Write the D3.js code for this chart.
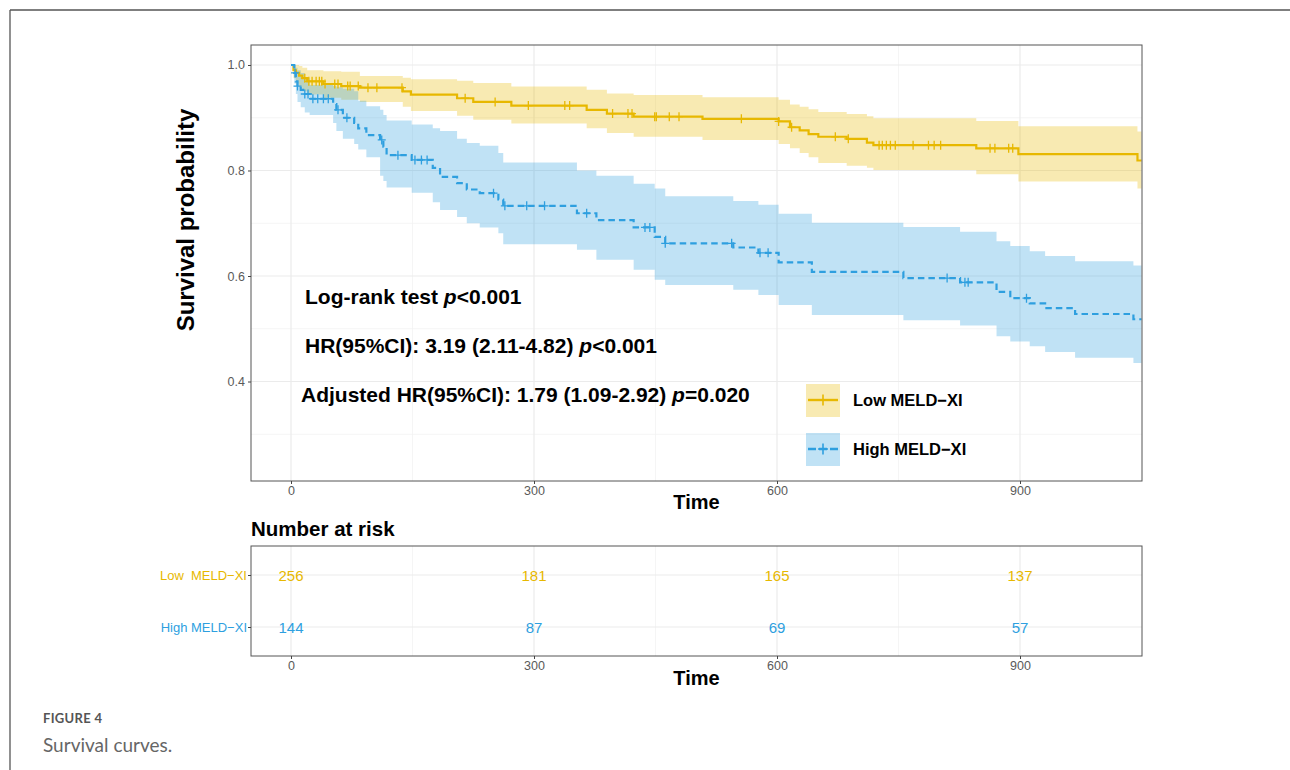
<!DOCTYPE html>
<html>
<head>
<meta charset="utf-8">
<script src="https://cdn.jsdelivr.net/npm/d3@7"></script>
<style>
  body { margin: 0; background: #fff; }
  text { font-family: "Liberation Sans", Arial, Helvetica, sans-serif; }
</style>
</head>
<body>
<div id="chart"></div>
<script>
// ---- data ----
var groups = ["Low MELD−XI", "High MELD−XI"];
var riskLabels = ["Low  MELD−XI", "High MELD−XI"];
var colors = ["#E7B800", "#2E9FDF"];

var lowTime  = [0, 3, 6, 10, 14, 20, 40, 62, 85, 138, 148, 205, 225, 272, 365, 390, 423, 508, 602, 616, 628, 639, 651, 686, 711, 719, 846, 898, 1045];
var lowSurv  = [1, 0.990, 0.985, 0.980, 0.975, 0.969, 0.964, 0.960, 0.957, 0.950, 0.944, 0.937, 0.930, 0.923, 0.915, 0.908, 0.902, 0.898, 0.893, 0.882, 0.876, 0.869, 0.864, 0.860, 0.853, 0.848, 0.842, 0.831, 0.819];
var lowLower = [1, 0.975, 0.965, 0.958, 0.950, 0.944, 0.938, 0.934, 0.930, 0.921, 0.913, 0.904, 0.896, 0.889, 0.880, 0.871, 0.864, 0.858, 0.850, 0.842, 0.833, 0.825, 0.814, 0.809, 0.805, 0.801, 0.793, 0.779, 0.766];
var lowUpper = [1, 1, 1, 0.998, 0.995, 0.990, 0.988, 0.987, 0.979, 0.976, 0.973, 0.970, 0.966, 0.959, 0.953, 0.946, 0.943, 0.939, 0.934, 0.925, 0.921, 0.916, 0.911, 0.907, 0.903, 0.899, 0.894, 0.884, 0.874];
var lowCensor = [17, 22, 26, 31, 35, 38, 42, 54, 58, 70, 73, 83, 95, 106, 137, 215, 252, 293, 338, 344, 397, 416, 421, 449, 451, 467, 479, 556, 602, 618, 672, 688, 726, 730, 735, 740, 746, 768, 787, 794, 802, 863, 869, 886, 891];

var highTime  = [0, 4, 6, 8, 12, 17, 23, 52, 56, 64, 78, 83, 93, 110, 114, 118, 149, 175, 184, 205, 217, 233, 256, 262, 353, 377, 423, 449, 462, 546, 577, 602, 643, 756, 826, 871, 888, 912, 931, 968, 1040];
var highSurv  = [1, 0.985, 0.969, 0.960, 0.953, 0.945, 0.936, 0.926, 0.915, 0.900, 0.890, 0.880, 0.867, 0.858, 0.845, 0.829, 0.820, 0.805, 0.788, 0.776, 0.764, 0.757, 0.745, 0.733, 0.719, 0.706, 0.692, 0.674, 0.662, 0.654, 0.644, 0.626, 0.608, 0.596, 0.588, 0.570, 0.558, 0.548, 0.539, 0.528, 0.518];
var highLower = [1, 0.965, 0.945, 0.930, 0.920, 0.910, 0.905, 0.890, 0.875, 0.860, 0.850, 0.840, 0.825, 0.790, 0.780, 0.768, 0.758, 0.740, 0.725, 0.712, 0.700, 0.692, 0.681, 0.660, 0.650, 0.631, 0.612, 0.593, 0.583, 0.574, 0.564, 0.545, 0.526, 0.516, 0.506, 0.486, 0.476, 0.467, 0.456, 0.445, 0.435];
var highUpper = [1, 1, 0.995, 0.990, 0.985, 0.975, 0.962, 0.960, 0.958, 0.955, 0.950, 0.932, 0.922, 0.915, 0.905, 0.895, 0.887, 0.880, 0.875, 0.860, 0.852, 0.847, 0.833, 0.815, 0.800, 0.790, 0.775, 0.766, 0.751, 0.742, 0.735, 0.718, 0.701, 0.693, 0.684, 0.666, 0.657, 0.647, 0.638, 0.628, 0.620];
var highCensor = [5, 8, 17, 21, 27, 33, 40, 46, 58, 69, 112, 132, 153, 161, 168, 250, 264, 291, 313, 365, 437, 443, 462, 544, 579, 589, 810, 832, 836, 908];

var endTime = 1050;
var xTicks = [0, 300, 600, 900];
var xMinor = [150, 450, 750];
var yTicks = [0.4, 0.6, 0.8, 1.0];
var yMinor = [0.3, 0.5, 0.7, 0.9];

var riskTimes = [0, 300, 600, 900];
var lowRisk = [256, 181, 165, 137];
var highRisk = [144, 87, 69, 57];

// ---- layout ----
var W = 1290, H = 770;
var panel = {left: 251, right: 1142, top: 45, bottom: 481};
var risk = {top: 546, bottom: 656};

var svg = d3.select("#chart").append("svg")
    .attr("width", W).attr("height", H);

// page frame (top and left rules)
svg.append("line").attr("x1", 10).attr("y1", 10).attr("x2", W).attr("y2", 10)
    .attr("stroke", "#555").attr("stroke-width", 1.3);
svg.append("line").attr("x1", 10).attr("y1", 10).attr("x2", 10).attr("y2", H)
    .attr("stroke", "#555").attr("stroke-width", 1.3);

var x = d3.scaleLinear().domain([-49.4, 1050.6]).range([panel.left, panel.right]);
var y = d3.scaleLinear().domain([0.2114, 1.0379]).range([panel.bottom, panel.top]);

function makeSeries(t, s, lo, up) {
    var pts = t.map(function(d, i) { return {t: d, s: s[i], lo: lo[i], up: up[i]}; });
    var last = pts[pts.length - 1];
    pts.push({t: endTime, s: last.s, lo: last.lo, up: last.up});
    return pts;
}
var series = [
    {name: groups[0], color: colors[0], dash: null, pts: makeSeries(lowTime, lowSurv, lowLower, lowUpper), times: lowTime, surv: lowSurv, censor: lowCensor},
    {name: groups[1], color: colors[1], dash: "6.5,4", pts: makeSeries(highTime, highSurv, highLower, highUpper), times: highTime, surv: highSurv, censor: highCensor}
];

// ---- main panel ----
var g = svg.append("g");

// grid
g.selectAll(".xminor").data(xMinor).enter().append("line")
    .attr("x1", function(d) { return x(d); }).attr("x2", function(d) { return x(d); })
    .attr("y1", panel.top).attr("y2", panel.bottom)
    .attr("stroke", "#F2F2F2").attr("stroke-width", 0.8);
g.selectAll(".yminor").data(yMinor).enter().append("line")
    .attr("y1", function(d) { return y(d); }).attr("y2", function(d) { return y(d); })
    .attr("x1", panel.left).attr("x2", panel.right)
    .attr("stroke", "#F2F2F2").attr("stroke-width", 0.8);
g.selectAll(".xmajor").data(xTicks).enter().append("line")
    .attr("x1", function(d) { return x(d); }).attr("x2", function(d) { return x(d); })
    .attr("y1", panel.top).attr("y2", panel.bottom)
    .attr("stroke", "#EBEBEB").attr("stroke-width", 1.2);
g.selectAll(".ymajor").data(yTicks).enter().append("line")
    .attr("y1", function(d) { return y(d); }).attr("y2", function(d) { return y(d); })
    .attr("x1", panel.left).attr("x2", panel.right)
    .attr("stroke", "#EBEBEB").attr("stroke-width", 1.2);

// confidence bands
var area = d3.area()
    .curve(d3.curveStepAfter)
    .x(function(d) { return x(d.t); })
    .y0(function(d) { return y(d.lo); })
    .y1(function(d) { return y(d.up); });
g.selectAll(".band").data(series).enter().append("path")
    .attr("d", function(d) { return area(d.pts); })
    .attr("fill", function(d) { return d.color; })
    .attr("fill-opacity", 0.3);

// survival curves
var line = d3.line()
    .curve(d3.curveStepAfter)
    .x(function(d) { return x(d.t); })
    .y(function(d) { return y(d.s); });
g.selectAll(".curve").data(series).enter().append("path")
    .attr("d", function(d) { return line(d.pts); })
    .attr("fill", "none")
    .attr("stroke", function(d) { return d.color; })
    .attr("stroke-width", 2.2)
    .attr("stroke-dasharray", function(d) { return d.dash; });

// censor marks
function survAt(sr, t) {
    var i = d3.bisectRight(sr.times, t) - 1;
    return sr.surv[Math.max(0, i)];
}
series.forEach(function(sr) {
    var cg = g.append("g").attr("stroke", sr.color).attr("stroke-width", 1.3);
    cg.selectAll("path").data(sr.censor).enter().append("path")
        .attr("d", function(t) {
            var cx = x(t), cy = y(survAt(sr, t));
            return "M" + (cx - 4) + "," + cy + "H" + (cx + 4) + "M" + cx + "," + (cy - 4.5) + "V" + (cy + 4.5);
        });
});

// panel border
g.append("rect").attr("x", panel.left).attr("y", panel.top)
    .attr("width", panel.right - panel.left).attr("height", panel.bottom - panel.top)
    .attr("fill", "none").attr("stroke", "#555").attr("stroke-width", 1);

// axes
var yAxis = g.append("g").attr("transform", "translate(" + panel.left + ",0)")
    .call(d3.axisLeft(y).tickValues(yTicks).tickSize(3).tickPadding(3).tickFormat(d3.format(".1f")));
var xAxis = g.append("g").attr("transform", "translate(0," + panel.bottom + ")")
    .call(d3.axisBottom(x).tickValues(xTicks).tickSize(3).tickPadding(2));
[yAxis, xAxis].forEach(function(a) {
    a.select(".domain").remove();
    a.selectAll(".tick line").attr("stroke", "#444");
    a.selectAll(".tick text").attr("fill", "#5a5a5a")
        .style("font-size", "12.5px").style("font-family", "'Liberation Sans', Arial, sans-serif");
});

svg.append("text").attr("x", (panel.left + panel.right) / 2 + 0).attr("y", 509)
    .attr("text-anchor", "middle").style("font-size", "20px").style("font-weight", "bold")
    .text("Time");
svg.append("text")
    .attr("transform", "translate(194,220) rotate(-90)")
    .attr("text-anchor", "middle").style("font-size", "24px").style("font-weight", "bold")
    .text("Survival probability");

// annotations
var notes = [
    {x: 305, y: 304, parts: [["Log-rank test ", false], ["p", true], ["<0.001", false]]},
    {x: 305, y: 353, parts: [["HR(95%CI): 3.19 (2.11-4.82) ", false], ["p", true], ["<0.001", false]]},
    {x: 301, y: 402, parts: [["Adjusted HR(95%CI): 1.79 (1.09-2.92) ", false], ["p", true], ["=0.020", false]]}
];
notes.forEach(function(n) {
    var t = svg.append("text").attr("x", n.x).attr("y", n.y)
        .style("font-size", "21px").style("font-weight", "bold").attr("fill", "#000");
    n.parts.forEach(function(p) {
        t.append("tspan").style("font-style", p[1] ? "italic" : "normal").text(p[0]);
    });
});

// legend
var legY = [400, 449];
series.forEach(function(sr, i) {
    var lg = svg.append("g").attr("transform", "translate(806," + legY[i] + ")");
    lg.append("rect").attr("x", 0).attr("y", -16).attr("width", 34).attr("height", 33)
        .attr("fill", sr.color).attr("fill-opacity", 0.3);
    lg.append("line").attr("x1", 2).attr("x2", 32).attr("y1", 0).attr("y2", 0)
        .attr("stroke", sr.color).attr("stroke-width", 2.4)
        .attr("stroke-dasharray", sr.dash ? "8,3" : null);
    lg.append("path").attr("d", "M12,0H22M17,-5.5V5.5")
        .attr("stroke", sr.color).attr("stroke-width", 1.6);
    lg.append("text").attr("x", 47).attr("y", 6)
        .style("font-size", "16.5px").style("font-weight", "bold").text(sr.name);
});

// ---- number at risk table ----
svg.append("text").attr("x", 251).attr("y", 536)
    .style("font-size", "20.5px").style("font-weight", "bold").text("Number at risk");

var yr = d3.scalePoint().domain(groups).range([575, 627]);
var rg = svg.append("g");
rg.selectAll(".rxminor").data(xMinor).enter().append("line")
    .attr("x1", function(d) { return x(d); }).attr("x2", function(d) { return x(d); })
    .attr("y1", risk.top).attr("y2", risk.bottom)
    .attr("stroke", "#F2F2F2").attr("stroke-width", 0.8);
rg.selectAll(".rxmajor").data(xTicks).enter().append("line")
    .attr("x1", function(d) { return x(d); }).attr("x2", function(d) { return x(d); })
    .attr("y1", risk.top).attr("y2", risk.bottom)
    .attr("stroke", "#EBEBEB").attr("stroke-width", 1.2);
rg.selectAll(".rymajor").data(groups).enter().append("line")
    .attr("y1", function(d) { return yr(d); }).attr("y2", function(d) { return yr(d); })
    .attr("x1", panel.left).attr("x2", panel.right)
    .attr("stroke", "#EBEBEB").attr("stroke-width", 1.2);

var riskRows = [lowRisk, highRisk];
riskRows.forEach(function(vals, i) {
    rg.selectAll(".rv" + i).data(vals).enter().append("text")
        .attr("x", function(d, j) { return x(riskTimes[j]); })
        .attr("y", yr(groups[i]) + 5.5)
        .attr("text-anchor", "middle")
        .attr("fill", colors[i])
        .style("font-size", "15px")
        .text(function(d) { return d; });
});

rg.append("rect").attr("x", panel.left).attr("y", risk.top)
    .attr("width", panel.right - panel.left).attr("height", risk.bottom - risk.top)
    .attr("fill", "none").attr("stroke", "#555").attr("stroke-width", 1);

var ryAxis = rg.append("g").attr("transform", "translate(" + panel.left + ",0)")
    .call(d3.axisLeft(yr).tickSize(3).tickPadding(1).tickFormat(function(d, i) { return riskLabels[i]; }));
var rxAxis = rg.append("g").attr("transform", "translate(0," + risk.bottom + ")")
    .call(d3.axisBottom(x).tickValues(xTicks).tickSize(3).tickPadding(2));
[ryAxis, rxAxis].forEach(function(a) {
    a.select(".domain").remove();
    a.selectAll(".tick line").attr("stroke", "#444");
    a.selectAll(".tick text").style("font-family", "'Liberation Sans', Arial, sans-serif");
});
rxAxis.selectAll(".tick text").attr("fill", "#5a5a5a").style("font-size", "12.5px");
ryAxis.selectAll(".tick text")
    .attr("fill", function(d, i) { return colors[i]; })
    .style("font-size", "13px")
    .style("white-space", "pre");

svg.append("text").attr("x", (panel.left + panel.right) / 2).attr("y", 685)
    .attr("text-anchor", "middle").style("font-size", "20px").style("font-weight", "bold")
    .text("Time");

// ---- caption ----
svg.append("text").attr("x", 43).attr("y", 723)
    .attr("fill", "#555").style("font-family", "Lato, 'Open Sans', sans-serif")
    .style("font-size", "13px").style("font-weight", "bold").style("letter-spacing", "0.3px")
    .text("FIGURE 4");
svg.append("text").attr("x", 43).attr("y", 752)
    .attr("fill", "#666").style("font-family", "Lato, 'Open Sans', sans-serif")
    .style("font-size", "19px")
    .text("Survival curves.");
</script>
</body>
</html>
